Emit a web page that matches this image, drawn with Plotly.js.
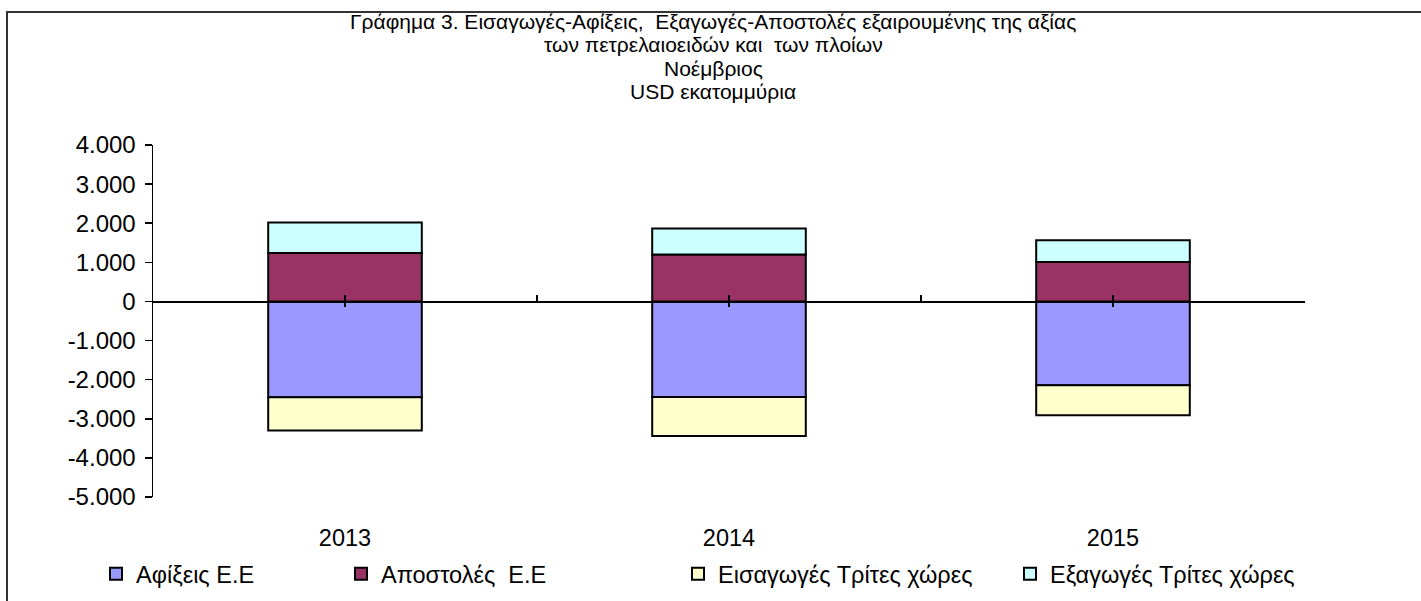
<!DOCTYPE html>
<html>
<head>
<meta charset="utf-8">
<script src="https://cdn.plot.ly/plotly-3.0.1.min.js"></script>
<style>html,body{margin:0;padding:0;background:#fff;}#chart{width:1421px;height:601px;}</style>
</head>
<body>
<div id="chart"></div>
<script>
// Data (USD millions, November)
var years = ['2013', '2014', '2015'];
var afixeisEE = [-2450, -2440, -2140];          // Αφίξεις Ε.Ε
var apostolesEE = [1240, 1200, 1010];           // Αποστολές Ε.Ε
var eisagogesTritesXores = [-850, -1000, -770]; // Εισαγωγές Τρίτες χώρες
var exagogesTritesXores = [780, 665, 555];      // Εξαγωγές Τρίτες χώρες

var seriesNames = ['Αφίξεις Ε.Ε', 'Αποστολές  Ε.Ε', 'Εισαγωγές Τρίτες χώρες', 'Εξαγωγές Τρίτες χώρες'];
var seriesValues = [afixeisEE, apostolesEE, eisagogesTritesXores, exagogesTritesXores];
var seriesColors = ['#9999FF', '#993366', '#FFFFCC', '#CCFFFF'];
var legendIds = ['legend', 'legend2', 'legend3', 'legend4'];

var titleLines = [
  'Γράφημα 3. Εισαγωγές-Αφίξεις,  Εξαγωγές-Αποστολές εξαιρουμένης της αξίας',
  'των πετρελαιοειδών και  των πλοίων',
  'Νοέμβριος',
  'USD εκατομμύρια'
];

var yTickVals = [-5000, -4000, -3000, -2000, -1000, 0, 1000, 2000, 3000, 4000];

var FONT = '"Liberation Sans", Arial, sans-serif';

var traces = seriesNames.map(function (name, i) {
  return {
    type: 'bar',
    name: name,
    x: years,
    y: seriesValues[i],
    width: 0.4,
    legend: legendIds[i],
    marker: { color: seriesColors[i], line: { color: '#000', width: 2 } },
    hoverinfo: 'x+y+name'
  };
});

// Plot-area geometry in pixels (used for decorations outside the data)
var L = 153, R = 116, T = 145, B = 104, W = 1421, H = 601;
var pw = W - L - R, ph = H - T - B;
function px2x(p) { return (p - L) / pw; }
function py2y(p) { return (H - B - p) / ph; }

var titleCentersY = [21, 44.5, 68, 91.5];
var legendTextX = [136, 381, 718, 1050];

var layout = {
  width: W, height: H,
  margin: { l: L, r: R, t: T, b: B, pad: 0, autoexpand: false },
  paper_bgcolor: '#fff', plot_bgcolor: 'rgba(0,0,0,0)',
  font: { family: FONT, size: 23.5, color: '#000' },
  barmode: 'relative',
  showlegend: true,
  xaxis: {
    type: 'category',
    categoryarray: years, categoryorder: 'array',
    range: [-0.5, years.length - 0.5],
    showline: false, ticks: '', showgrid: false, zeroline: false,
    ticklabelstandoff: 24,
    tickfont: { family: FONT, size: 23.5, color: '#000' },
    fixedrange: true
  },
  // axis drawn through zero: upward ticks at category boundaries and centres
  xaxis2: {
    overlaying: 'x', anchor: 'free', side: 'bottom',
    position: 5 / 9,
    type: 'linear',
    range: [-0.5, years.length - 0.5],
    tickmode: 'array',
    tickvals: years.map(function (_, i) { return i + 0.5; }).concat(years.map(function (_, i) { return i; })),
    showticklabels: false,
    ticks: 'inside', ticklen: 6, tickwidth: 1.5, tickcolor: '#000',
    showline: true, linecolor: '#000', linewidth: 1.5,
    showgrid: false, zeroline: false, fixedrange: true
  },
  // downward half of the small centre ticks
  xaxis3: {
    overlaying: 'x', anchor: 'free', side: 'bottom',
    position: 5 / 9,
    type: 'linear',
    range: [-0.5, years.length - 0.5],
    tickmode: 'array',
    tickvals: years.map(function (_, i) { return i; }),
    showticklabels: false,
    ticks: 'outside', ticklen: 5, tickwidth: 1.5, tickcolor: '#000',
    showline: false, showgrid: false, zeroline: false, fixedrange: true
  },
  yaxis: {
    range: [-5000, 4000],
    tickmode: 'array', tickvals: yTickVals,
    ticktext: yTickVals.map(function (v) { return v === 0 ? '0' : (v < 0 ? '-' : '') + Math.abs(v / 1000) + '.000'; }),
    showline: true, linecolor: '#000', linewidth: 1.5,
    ticks: 'outside', ticklen: 7, tickwidth: 1.5, tickcolor: '#000',
    ticklabelstandoff: 4,
    showgrid: false, zeroline: false,
    tickfont: { family: FONT, size: 24, color: '#000' },
    fixedrange: true
  },
  annotations: titleLines.map(function (t, i) {
    return {
      text: t, showarrow: false,
      xref: 'paper', x: px2x(713), xanchor: 'center',
      yref: 'paper', y: py2y(titleCentersY[i]), yanchor: 'middle',
      font: { family: FONT, size: 21, color: '#000' }
    };
  }),
  shapes: [{
    type: 'rect', xref: 'paper', yref: 'paper', layer: 'below',
    x0: px2x(7), x1: px2x(W + 20), y0: py2y(H + 20), y1: py2y(12),
    line: { color: '#333', width: 2 }, fillcolor: 'rgba(0,0,0,0)'
  }]
};

// one legend per series so each entry sits where the reference places it
legendIds.forEach(function (id, i) {
  layout[id] = {
    orientation: 'h',
    x: px2x(legendTextX[i] - 40), xanchor: 'left',
    y: py2y(574), yanchor: 'middle',
    bgcolor: 'rgba(0,0,0,0)', borderwidth: 0,
    font: { family: FONT, size: 23.5, color: '#000' },
    itemclick: false, itemdoubleclick: false
  };
});

// empty traces to activate the overlay axes (no visible marks)
traces.push({ type: 'scatter', x: [], y: [], xaxis: 'x2', showlegend: false, hoverinfo: 'skip' });
traces.push({ type: 'scatter', x: [], y: [], xaxis: 'x3', showlegend: false, hoverinfo: 'skip' });

Plotly.newPlot('chart', traces, layout, { displayModeBar: false, staticPlot: true });
</script>
</body>
</html>
